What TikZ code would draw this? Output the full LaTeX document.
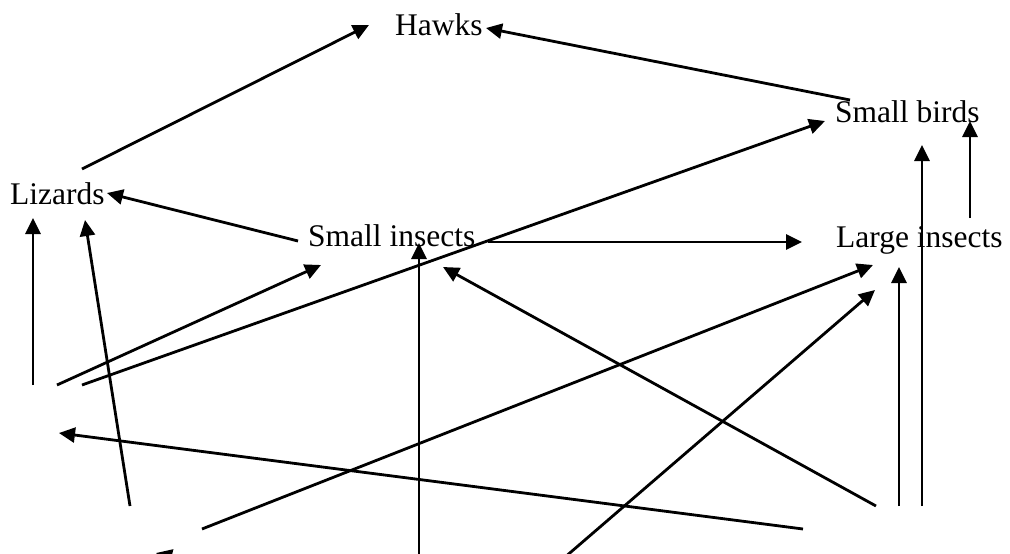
\documentclass[tikz,border=0pt]{standalone}
\usepackage{fontspec}
\setmainfont{Liberation Serif}
\usetikzlibrary{arrows.meta,calc}
\tikzset{
  species/.style={inner sep=0pt, anchor=base west, font=\fontsize{31.5}{36}\selectfont},
  eats/.style={line width=2.8pt, -{Triangle[length=16pt,width=15pt]}}
}
\begin{document}
\begin{tikzpicture}[x=1pt,y=-1pt]
\useasboundingbox (0,0) rectangle (1010,554);
\clip (0,0) rectangle (1010,554);

% species labels, placed by their baselines
\node[species] (hawks)   at (395,35)  {Hawks};
\node[species] (birds)   at (835,122) {Small birds};
\node[species] (lizards) at (10,204)  {Lizards};
\node[species] (small)   at (308,246) {Small insects};
\node[species] (large)   at (836,247) {Large insects};

% loose ends of the lower arrows
\coordinate (p1) at (33,385);
\coordinate (p2) at (57,385);
\coordinate (p3) at (82,385);
\coordinate (q)  at (803,529);
\coordinate (qq) at (59,433);
\coordinate (r)  at (130,506);
\coordinate (s)  at (202,529);
\coordinate (t)  at (419,562);
\coordinate (u)  at (564,558);
\coordinate (v)  at (876,506);
\coordinate (w)  at (899,506);
\coordinate (x)  at (922,506);
\coordinate (z)  at (350,601);
\coordinate (zz) at (156,553);

% upper links
\draw[eats] ($(lizards.base west)+(72,-35)$) -- ($(hawks.base west)+(-26,-10)$);
\draw[eats] ($(birds.base west)+(15,-22)$) -- ($(hawks.base west)+(91,-7)$);
\draw[eats] ($(small.base west)+(-10,-5)$) -- ($(lizards.base west)+(97,-11)$);
\draw[eats] ($(small.base west)+(180,-4)$) -- ($(large.base west)+(-34,-5)$);
\draw[eats] ($(large.base west)+(134,-29)$) -- ($(birds.base west)+(135,-1)$);

% links coming up from below
\draw[eats] (p1) -- ($(lizards.base west)+(23,14)$);
\draw[eats] (p2) -- ($(small.base west)+(13,19)$);
\draw[eats] (p3) -- ($(birds.base west)+(-10,-1)$);
\draw[eats] (q) -- (qq);
\draw[eats] (r) -- ($(lizards.base west)+(75,16)$);
\draw[eats] (s) -- ($(large.base west)+(37,18)$);
\draw[eats] (t) -- ($(small.base west)+(111,-3)$);
\draw[eats] (u) -- ($(large.base west)+(39,43)$);
\draw[eats] (v) -- ($(small.base west)+(135,21)$);
\draw[eats] (w) -- ($(large.base west)+(63,20)$);
\draw[eats] (x) -- ($(birds.base west)+(87,23)$);
\draw[eats] (z) -- (zz);
\end{tikzpicture}
\end{document}
